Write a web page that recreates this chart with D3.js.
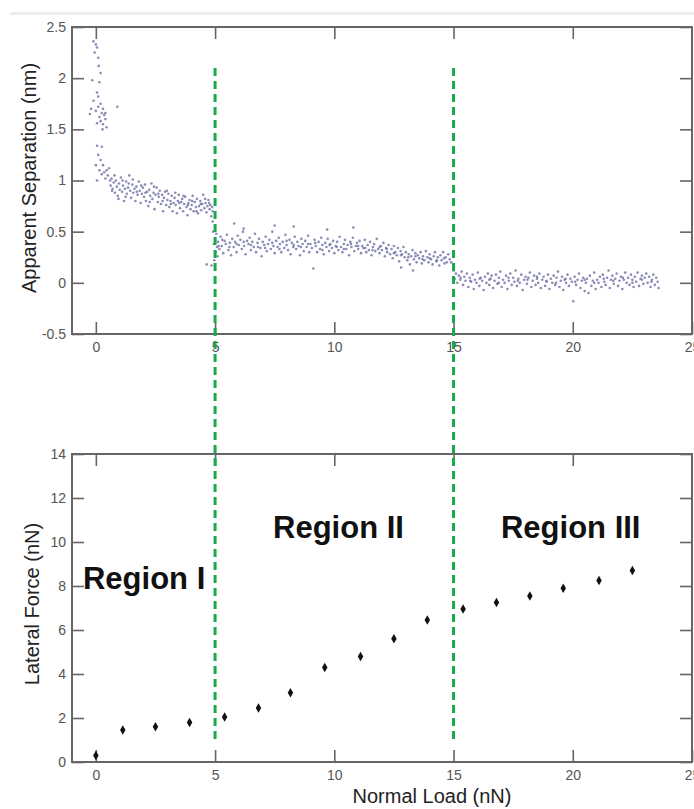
<!DOCTYPE html>
<html><head><meta charset="utf-8">
<script src="https://cdn.jsdelivr.net/npm/d3@7"></script>
<style>body{margin:0;background:#fff}svg{display:block}</style>
</head><body>
<svg id="c" width="694" height="809"></svg>
<script>
// ---------- data ----------
const xTicks = [0, 5, 10, 15, 20, 25];
const sepTicks = [-0.5, 0, 0.5, 1, 1.5, 2, 2.5];
const forceTicks = [0, 2, 4, 6, 8, 10, 12, 14];
const regionBounds = [5, 15];
const regionNames = ["Region I", "Region II", "Region III"];

// Lateral force vs normal load
const loadX = [0, 1.13, 2.5, 3.93, 5.4, 6.82, 8.16, 9.6, 11.1, 12.5, 13.9, 15.4, 16.8, 18.2, 19.6, 21.1, 22.5];
const lateralForce = [0.3, 1.45, 1.6, 1.8, 2.05, 2.45, 3.15, 4.3, 4.8, 5.6, 6.45, 6.95, 7.25, 7.55, 7.9, 8.25, 8.7];

// Apparent separation vs normal load: [load, separation]
const sepRegionI = [
[-0.1,2.36],[0.0,2.33],[0.05,2.30],[-0.05,2.25],[0.1,2.2],[0.12,2.12],[0.2,2.05],[-0.15,1.98],[0.15,1.96],[0.05,1.86],
[-0.1,1.78],[0.2,1.75],[-0.2,1.7],[0.1,1.72],[0.3,1.7],[0.0,1.68],[0.25,1.66],[-0.25,1.65],[0.35,1.64],[0.15,1.62],
[0.4,1.6],[0.2,1.58],[0.05,1.56],[0.3,1.55],[0.45,1.52],[0.28,1.5],[0.9,1.72],[0.1,1.82],[0.4,1.66],
[0.05,1.34],[0.25,1.33],[0.1,1.25],[0.2,1.2],[0.0,1.15],[0.3,1.15],[0.15,1.1],[0.35,1.08],[0.25,1.06],[0.45,1.1],
[0.5,1.05],[0.4,1.02],[0.55,1.12],[0.05,1.0],[0.6,1.0],
[0.62,0.95],[0.66,1.02],[0.7,0.92],[0.75,0.98],[0.8,0.88],[0.84,1.0],[0.88,0.94],[0.92,0.85],[0.97,0.97],[1.0,0.91],
[1.05,1.03],[1.1,0.89],[1.14,0.95],[1.18,0.8],[1.22,0.92],[1.27,0.99],[1.3,0.87],[1.35,0.93],[1.4,1.05],[1.44,0.9],
[1.48,0.83],[1.53,0.96],[1.57,0.88],[1.62,0.92],[1.66,0.8],[1.7,0.94],[1.75,0.86],[1.8,0.99],[1.84,0.9],[1.88,0.78],
[1.93,0.87],[1.97,0.93],[2.02,0.84],[2.06,0.96],[2.1,0.8],[2.15,0.89],[2.2,0.75],[2.24,0.91],[2.28,0.85],[2.33,0.97],
[2.37,0.82],[2.42,0.88],[2.46,0.72],[2.5,0.86],[2.55,0.93],[2.6,0.79],[2.64,0.84],[2.68,0.9],[2.73,0.77],[2.78,0.86],
[2.82,0.7],[2.86,0.83],[2.9,0.89],[2.95,0.76],[3.0,0.81],[3.04,0.87],[3.08,0.74],[3.13,0.8],[3.18,0.85],[3.22,0.7],
[3.26,0.78],[3.3,0.83],[3.35,0.76],[3.4,0.68],[3.44,0.8],[3.48,0.86],[3.53,0.73],[3.58,0.79],[3.62,0.82],[3.66,0.7],
[3.7,0.77],[3.75,0.84],[3.8,0.74],[3.84,0.66],[3.88,0.78],[3.93,0.81],[3.97,0.72],[4.02,0.76],[4.06,0.85],[4.1,0.7],
[4.15,0.79],[4.2,0.74],[4.24,0.82],[4.28,0.68],[4.33,0.75],[4.38,0.8],[4.42,0.71],[4.46,0.77],[4.5,0.86],[4.55,0.73],
[4.6,0.78],[4.64,0.69],[4.68,0.75],[4.72,0.81],[4.77,0.72],[4.8,0.76],[4.84,0.65],[4.88,0.74],
[0.68,0.9],[0.78,1.05],[0.95,0.82],[1.12,1.0],[1.25,0.84],[1.38,0.97],[1.55,1.01],[1.72,0.89],[1.9,0.95],[2.08,0.88],
[2.26,0.79],[2.44,0.94],[2.62,0.87],[2.8,0.8],[2.98,0.9],[3.15,0.77],[3.33,0.88],[3.5,0.78],[3.68,0.85],[3.86,0.76],
[4.04,0.8],[4.22,0.7],[4.4,0.77],[4.58,0.82],[4.75,0.78],[4.9,0.7]
];
const sepRegionII = [
[4.92,0.5],[4.95,0.38],[4.97,0.22],[5.0,0.42],[5.02,0.3],[5.05,0.48],[5.08,0.35],[4.9,0.6],[5.1,0.26],[4.85,0.17],[4.65,0.18],
[5.12,0.4],[5.18,0.33],[5.23,0.45],[5.28,0.36],[5.34,0.29],[5.4,0.41],[5.45,0.38],[5.5,0.47],[5.56,0.32],[5.62,0.39],
[5.67,0.27],[5.72,0.43],[5.78,0.35],[5.84,0.4],[5.9,0.3],[5.95,0.46],[6.0,0.37],[6.06,0.42],[6.12,0.33],[6.17,0.5],
[6.22,0.36],[6.28,0.28],[6.34,0.41],[6.4,0.38],[6.45,0.44],[6.5,0.32],[6.56,0.4],[6.62,0.35],[6.67,0.48],[6.72,0.3],
[6.78,0.39],[6.84,0.43],[6.9,0.34],[6.95,0.26],[7.0,0.4],[7.06,0.37],[7.12,0.45],[7.17,0.31],[7.22,0.38],[7.28,0.42],
[7.34,0.33],[7.4,0.5],[7.45,0.36],[7.5,0.29],[7.56,0.41],[7.62,0.35],[7.67,0.44],[7.72,0.38],[7.78,0.3],[7.84,0.4],
[7.9,0.34],[7.95,0.47],[8.0,0.37],[8.06,0.32],[8.12,0.42],[8.17,0.28],[8.22,0.39],[8.28,0.35],[8.34,0.45],[8.4,0.33],
[8.45,0.4],[8.5,0.36],[8.56,0.27],[8.62,0.43],[8.67,0.38],[8.72,0.31],[8.78,0.41],[8.84,0.35],[8.9,0.46],[8.95,0.3],
[9.0,0.38],[9.06,0.34],[9.12,0.14],[9.17,0.42],[9.22,0.36],[9.28,0.3],[9.34,0.4],[9.4,0.33],[9.45,0.44],[9.5,0.37],
[9.56,0.28],[9.62,0.39],[9.67,0.35],[9.72,0.43],[9.78,0.31],[9.84,0.38],[9.9,0.34],[9.95,0.41],[10.0,0.29],[10.06,0.36],
[10.12,0.4],[10.17,0.32],[10.22,0.45],[10.28,0.35],[10.34,0.3],[10.4,0.38],[10.45,0.42],[10.5,0.33],[10.56,0.37],[10.62,0.27],
[10.67,0.4],[10.72,0.35],[10.78,0.44],[10.84,0.31],[10.9,0.36],[10.95,0.39],[11.0,0.33],[11.06,0.41],[11.12,0.29],[11.17,0.36],
[11.22,0.34],[11.28,0.42],[11.34,0.3],[11.4,0.37],[11.45,0.32],[11.5,0.4],[11.56,0.27],[11.62,0.35],[11.67,0.38],[11.72,0.31],
[11.78,0.43],[11.84,0.33],[11.9,0.29],[11.95,0.36],[12.0,0.32],[12.06,0.39],[12.12,0.26],[12.17,0.34],[12.22,0.3],[12.28,0.37],
[12.34,0.28],[12.4,0.33],[12.45,0.24],[12.5,0.36],[12.56,0.3],[12.62,0.27],[12.67,0.34],[12.72,0.21],[12.78,0.31],[12.84,0.28],
[12.9,0.35],[12.95,0.25],[13.0,0.3],[13.06,0.22],[13.12,0.28],[13.17,0.18],[13.22,0.26],[13.28,0.32],[13.34,0.23],[13.4,0.29],
[13.45,0.2],[13.5,0.27],[13.56,0.24],[13.62,0.3],[13.67,0.19],[13.72,0.26],[13.78,0.22],[13.84,0.31],[13.9,0.25],[13.95,0.2],
[14.0,0.28],[14.06,0.23],[14.12,0.18],[14.17,0.26],[14.22,0.3],[14.28,0.21],[14.34,0.25],[14.4,0.17],[14.45,0.27],[14.5,0.22],
[14.56,0.3],[14.62,0.19],[14.67,0.25],[14.72,0.2],[14.78,0.28],[14.84,0.23],
[5.8,0.58],[6.2,0.53],[7.5,0.56],[10.8,0.54],[12.8,0.15],[13.3,0.12],[9.7,0.52],[8.3,0.55],
[5.15,0.36],[5.3,0.42],[5.6,0.35],[5.9,0.38],[6.2,0.4],[6.5,0.37],[6.8,0.35],[7.1,0.34],[7.4,0.39],[7.7,0.33],
[8.0,0.41],[8.3,0.37],[8.6,0.35],[8.9,0.38],[9.2,0.39],[9.5,0.32],[9.8,0.37],[10.1,0.35],[10.4,0.33],[10.7,0.38],
[11.0,0.36],[11.3,0.34],[11.6,0.32],[11.9,0.35],[12.2,0.33],[12.5,0.29],[12.8,0.27],[13.1,0.25],[13.4,0.26],[13.7,0.23],
[14.0,0.24],[14.3,0.22],[14.6,0.24],[14.9,0.2]
];
const sepRegionIII = [
[15.0,0.12],[15.05,0.04],[15.1,0.09],[15.16,0.0],[15.22,0.07],[15.28,0.03],[15.34,0.11],[15.4,-0.02],[15.45,0.06],[15.5,0.02],
[15.56,0.09],[15.62,-0.04],[15.68,0.05],[15.74,0.01],[15.8,0.08],[15.85,-0.06],[15.9,0.03],[15.96,0.0],[16.02,0.1],[16.08,-0.03],
[16.14,0.05],[16.2,0.02],[16.26,-0.07],[16.32,0.06],[16.38,0.0],[16.44,0.09],[16.5,-0.02],[16.55,0.04],[16.6,0.07],[16.66,-0.05],
[16.72,0.02],[16.78,0.08],[16.84,-0.01],[16.9,0.05],[16.96,0.11],[17.02,-0.04],[17.08,0.03],[17.14,0.0],[17.2,0.07],[17.26,-0.06],
[17.32,0.02],[17.38,0.09],[17.44,-0.02],[17.5,0.05],[17.55,0.01],[17.6,0.12],[17.66,-0.03],[17.72,0.04],[17.78,0.0],[17.84,0.08],
[17.9,-0.07],[17.96,0.03],[18.02,0.06],[18.08,-0.01],[18.14,0.05],[18.2,0.1],[18.26,-0.04],[18.32,0.02],[18.38,0.07],[18.44,-0.02],
[18.5,0.04],[18.55,0.0],[18.6,0.09],[18.66,-0.05],[18.72,0.03],[18.78,0.06],[18.84,-0.03],[18.9,0.01],[18.96,0.08],[19.02,-0.06],
[19.08,0.04],[19.14,0.0],[19.2,0.07],[19.26,-0.02],[19.32,0.05],[19.38,0.11],[19.44,-0.04],[19.5,0.02],[19.55,0.06],[19.6,-0.07],
[19.66,0.03],[19.72,0.0],[19.78,0.08],[19.84,-0.03],[19.9,0.04],[19.96,0.01],[20.02,-0.18],[20.08,0.06],[20.14,-0.02],[20.2,0.03],
[20.26,0.09],[20.32,-0.05],[20.38,0.02],[20.44,0.05],[20.5,-0.08],[20.55,0.0],[20.6,0.04],[20.66,-0.1],[20.72,0.07],[20.78,-0.03],
[20.84,0.02],[20.9,0.1],[20.96,-0.06],[21.02,0.03],[21.08,0.0],[21.14,0.06],[21.2,-0.04],[21.26,0.08],[21.32,0.01],[21.38,-0.02],
[21.44,0.05],[21.5,0.12],[21.55,-0.05],[21.6,0.03],[21.66,0.07],[21.72,-0.01],[21.78,0.04],[21.84,0.09],[21.9,-0.03],[21.96,0.02],
[22.02,0.06],[22.08,-0.06],[22.14,0.03],[22.2,0.1],[22.26,0.0],[22.32,0.05],[22.38,-0.02],[22.44,0.08],[22.5,0.03],[22.55,-0.04],
[22.6,0.06],[22.66,0.01],[22.72,0.1],[22.78,-0.03],[22.84,0.04],[22.9,0.07],[22.96,-0.01],[23.02,0.05],[23.08,0.09],[23.14,0.0],
[23.2,0.06],[23.26,-0.04],[23.32,0.03],[23.38,0.08],[23.44,-0.02],[23.5,0.05],[23.56,0.01],[23.6,-0.05],
[15.3,0.05],[15.7,0.02],[16.1,0.04],[16.5,0.03],[16.9,0.0],[17.3,0.05],[17.7,0.02],[18.1,0.03],[18.5,0.06],[18.9,0.02],
[19.3,0.0],[19.7,0.04],[20.1,0.01],[20.5,0.03],[20.9,0.0],[21.3,0.04],[21.7,0.02],[22.1,0.05],[22.5,0.0],[22.9,0.03],[23.3,0.01]
];

// ---------- drawing ----------
const svg = d3.select("#c");
const FONT = "'Liberation Sans', Arial, Helvetica, sans-serif";
const AXC = "#666";

svg.append("rect").attr("x", 10).attr("y", 12).attr("width", 684).attr("height", 3).attr("fill", "#ededed");

const x = d3.scaleLinear().domain([-1, 25]).range([72, 692]);
const ySep = d3.scaleLinear().domain([-0.5, 2.5]).range([334, 27]);
const yForce = d3.scaleLinear().domain([0, 14]).range([762, 454]);

function style(g) {
  g.selectAll(".domain").remove();
  g.selectAll(".tick line").attr("stroke", AXC).attr("stroke-width", 1.6);
  g.selectAll(".tick text").attr("fill", "#555").style("font-family", FONT).style("font-size", "14px");
}
function panel(y, ticks) {
  const [y0, y1] = y.range();
  const [x0, x1] = x.range();
  const gB = svg.append("g").attr("transform", `translate(0,${y0})`)
    .call(d3.axisBottom(x).tickValues(xTicks).tickSizeInner(-12).tickSizeOuter(0).tickPadding(8).tickFormat(d => String(d)));
  const gT = svg.append("g").attr("transform", `translate(0,${y1})`)
    .call(d3.axisTop(x).tickValues(xTicks.filter(v => v < 25)).tickSizeInner(-12).tickSizeOuter(0).tickFormat(""));
  const gL = svg.append("g").attr("transform", `translate(${x0},0)`)
    .call(d3.axisLeft(y).tickValues(ticks).tickSizeInner(-12).tickSizeOuter(0).tickPadding(6).tickFormat(d => String(d)));
  const gR = svg.append("g").attr("transform", `translate(${x1},0)`)
    .call(d3.axisRight(y).tickValues(ticks).tickSizeInner(-12).tickSizeOuter(0).tickFormat(""));
  [gB, gT, gL, gR].forEach(style);
  svg.append("rect").attr("x", x0).attr("y", y1).attr("width", x1 - x0).attr("height", y0 - y1)
    .attr("fill", "none").attr("stroke", AXC).attr("stroke-width", 2);
}

// Top panel
panel(ySep, sepTicks);
const sepAll = sepRegionI.concat(sepRegionII, sepRegionIII);
svg.append("g").selectAll("circle").data(sepAll).join("circle")
  .attr("cx", d => x(d[0])).attr("cy", d => ySep(d[1])).attr("r", 1.3)
  .attr("fill", "#6565a0").attr("opacity", 0.75);

// Bottom panel
panel(yForce, forceTicks);
svg.append("g").selectAll("path").data(loadX.map((v, i) => [v, lateralForce[i]])).join("path")
  .attr("d", d3.symbol().type(d3.symbolDiamond).size(26))
  .attr("transform", d => `translate(${x(d[0])},${yForce(d[1])})`)
  .attr("fill", "#111");

// Region boundaries (dashed green lines spanning both panels)
svg.append("g").selectAll("line").data(regionBounds).join("line")
  .attr("x1", d => x(d)).attr("x2", d => x(d))
  .attr("y1", ySep(2.1)).attr("y2", yForce(1))
  .attr("stroke", "#19a84c").attr("stroke-width", 3).attr("stroke-dasharray", "8,5");

// Region labels
const regionPos = [[-0.54, 7.85], [7.43, 10.2], [16.99, 10.2]];
svg.append("g").selectAll("text").data(regionNames).join("text")
  .attr("x", (d, i) => x(regionPos[i][0])).attr("y", (d, i) => yForce(regionPos[i][1]))
  .text(d => d)
  .style("font-family", FONT).style("font-size", "31px").style("font-weight", "bold").attr("fill", "#111");

// Axis titles
svg.append("text").attr("transform", `translate(36,178) rotate(-90)`).attr("text-anchor", "middle")
  .style("font-family", FONT).style("font-size", "20px").attr("fill", "#222").text("Apparent Separation (nm)");
svg.append("text").attr("transform", `translate(39,604) rotate(-90)`).attr("text-anchor", "middle")
  .style("font-family", FONT).style("font-size", "20px").attr("fill", "#222").text("Lateral Force (nN)");
svg.append("text").attr("x", 432).attr("y", 803).attr("text-anchor", "middle")
  .style("font-family", FONT).style("font-size", "20px").attr("fill", "#222").text("Normal Load (nN)");
</script>
</body></html>
